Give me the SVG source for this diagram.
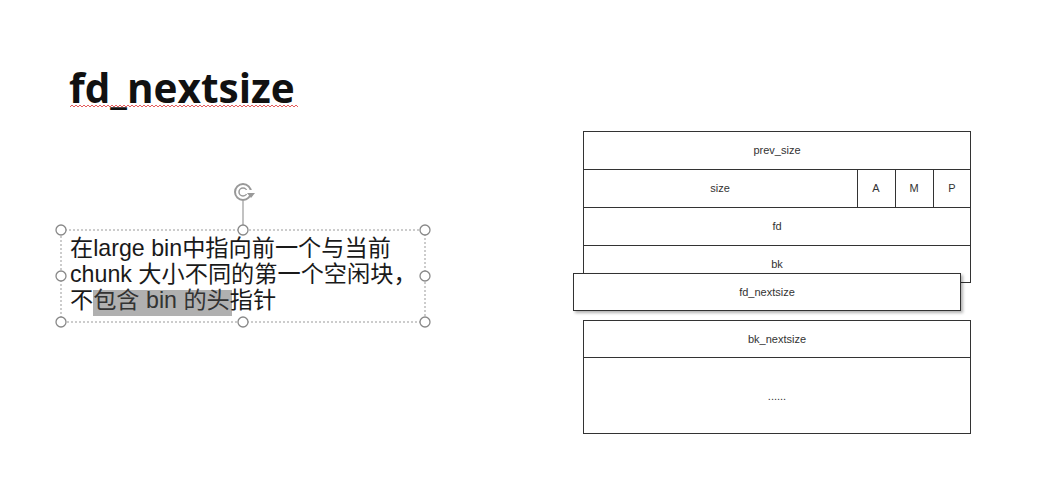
<svg xmlns="http://www.w3.org/2000/svg" width="1055" height="497" viewBox="0 0 1055 497">
  <style>
    .title { font-family: "Open Sans", "Noto Sans", sans-serif; font-weight: bold; font-size: 40.5px; fill: #111; }
    .body { font-family: "Liberation Sans", "Noto Sans CJK SC", sans-serif; font-size: 23.2px; fill: #1a1a1a; }
    .cell { fill: #ffffff; stroke: #333; stroke-width: 1; }
    .lbl { font-family: "Liberation Sans", Arial, sans-serif; font-size: 11px; fill: #333; text-anchor: middle; dominant-baseline: central; }
    .handle { fill: #fff; stroke: #888; stroke-width: 1.3; }
  </style>
  <defs>
    <filter id="shadow" x="-5%" y="-20%" width="115%" height="160%">
      <feDropShadow dx="2" dy="2" stdDeviation="1.5" flood-color="#000" flood-opacity="0.3"/>
    </filter>
    <pattern id="wavy" width="4" height="4" patternUnits="userSpaceOnUse">
      <path d="M0,1 L2,3 L4,1" fill="none" stroke="#d33" stroke-width="0.8"/>
    </pattern>
  </defs>

  <rect width="1055" height="497" fill="#ffffff"/>

  <!-- heading with spell-check underline -->
  <g id="heading">
    <text class="title" x="69" y="103">fd_nextsize</text>
    <rect x="70" y="105" width="228" height="4" fill="url(#wavy)"/>
  </g>

  <!-- selected text box -->
  <g id="textbox">
    <rect x="61" y="230" width="364" height="92" fill="none" stroke="#999" stroke-width="1" stroke-dasharray="2,2"/>
    <rect x="93" y="290" width="139" height="26" fill="#b0b0b0"/>
    <text class="body" x="70" y="256">在large bin中指向前一个与当前</text>
    <text class="body" x="70" y="282">chunk 大小不同的第一个空闲块，</text>
    <text class="body" x="70" y="308">不<tspan fill="#333">包含 bin 的头</tspan>指针</text>
    <line x1="243" y1="201" x2="243" y2="230" stroke="#999" stroke-width="1.2"/>
    <!-- rotate handle -->
    <circle cx="243" cy="192" r="8" fill="none" stroke="#999" stroke-width="2"/>
    <circle cx="243" cy="192" r="4" fill="none" stroke="#999" stroke-width="1.5"/>
    <rect x="246" y="190" width="8" height="4" fill="#fff"/>
    <path d="M247,193 L255,193 L251,198 Z" fill="#999"/>
    <circle class="handle" cx="61" cy="230" r="5"/>
    <circle class="handle" cx="243" cy="230" r="5"/>
    <circle class="handle" cx="425" cy="230" r="5"/>
    <circle class="handle" cx="61" cy="276" r="5"/>
    <circle class="handle" cx="425" cy="276" r="5"/>
    <circle class="handle" cx="61" cy="322" r="5"/>
    <circle class="handle" cx="243" cy="322" r="5"/>
    <circle class="handle" cx="425" cy="322" r="5"/>
  </g>

  <!-- chunk layout -->
  <g id="prev_size">
    <rect class="cell" x="583.5" y="131.5" width="387" height="38"/>
    <text class="lbl" x="777" y="150">prev_size</text>
  </g>
  <g id="size">
    <rect class="cell" x="583.5" y="169.5" width="274" height="38"/>
    <text class="lbl" x="720" y="188">size</text>
  </g>
  <g id="flag_a">
    <rect class="cell" x="857.5" y="169.5" width="38" height="38"/>
    <text class="lbl" x="876" y="188">A</text>
  </g>
  <g id="flag_m">
    <rect class="cell" x="895.5" y="169.5" width="38" height="38"/>
    <text class="lbl" x="914" y="188">M</text>
  </g>
  <g id="flag_p">
    <rect class="cell" x="933.5" y="169.5" width="37" height="38"/>
    <text class="lbl" x="952" y="188">P</text>
  </g>
  <g id="fd">
    <rect class="cell" x="583.5" y="207.5" width="387" height="38"/>
    <text class="lbl" x="777" y="226">fd</text>
  </g>
  <g id="bk">
    <rect class="cell" x="583.5" y="245.5" width="387" height="37"/>
    <text class="lbl" x="777" y="264">bk</text>
  </g>
  <g id="fd_nextsize">
    <rect class="cell" x="573.5" y="273.5" width="387" height="37" filter="url(#shadow)"/>
    <text class="lbl" x="767" y="292">fd_nextsize</text>
  </g>
  <g id="bk_nextsize">
    <rect class="cell" x="583.5" y="320.5" width="387" height="37"/>
    <text class="lbl" x="777" y="339">bk_nextsize</text>
  </g>
  <g id="rest">
    <rect class="cell" x="583.5" y="357.5" width="387" height="76"/>
    <text class="lbl" x="777" y="396">......</text>
  </g>
  <g id="connectors"/>
</svg>
